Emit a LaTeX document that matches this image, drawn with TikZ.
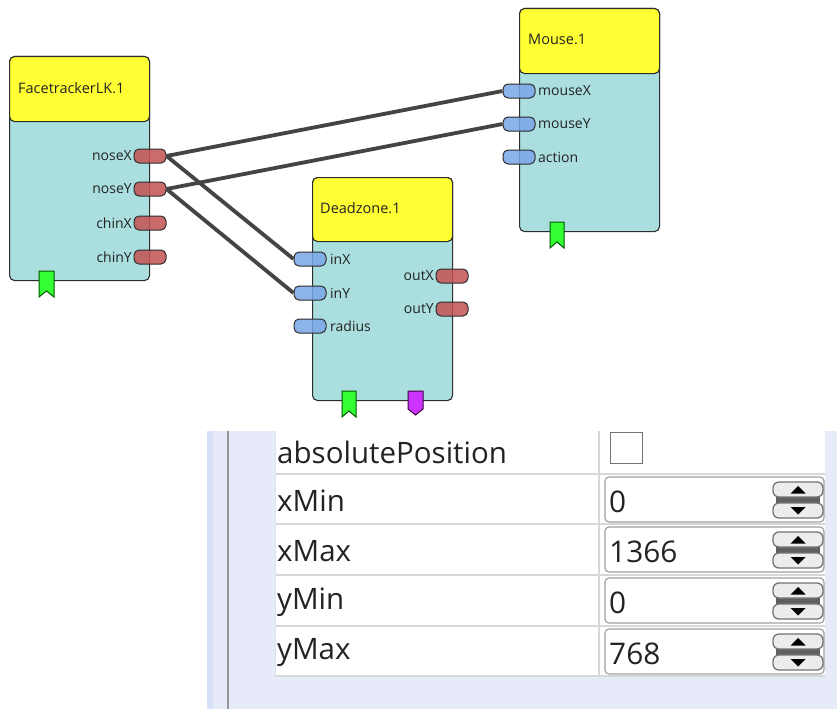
\documentclass[tikz,border=0pt]{standalone}
\usepackage{fontspec}
\setmainfont{Open Sans}
\definecolor{hdr}{RGB}{255,255,51}
\definecolor{bodyc}{RGB}{170,222,223}
\definecolor{outp}{RGB}{196,82,82}
\definecolor{inp}{RGB}{122,166,232}
\definecolor{flagGc}{RGB}{51,255,51}
\definecolor{flagMc}{RGB}{204,51,255}
\definecolor{wirec}{RGB}{68,68,68}
\definecolor{edgec}{RGB}{45,45,45}
\definecolor{lav}{RGB}{231,235,249}
\definecolor{lavedge}{RGB}{214,224,247}
\definecolor{txtc}{RGB}{35,35,35}
\definecolor{sepc}{RGB}{215,215,215}
\definecolor{btnc}{RGB}{236,236,236}
\definecolor{btnedge}{RGB}{115,115,115}
\definecolor{vline}{RGB}{150,150,155}
\definecolor{cellline}{RGB}{225,225,232}
\definecolor{chkc}{RGB}{115,115,115}
\definecolor{spinedge}{RGB}{160,160,160}
\definecolor{barc}{RGB}{95,95,95}
\tikzset{
  boxline/.style={draw=edgec, line width=1.1pt},
  modbody/.style={boxline, fill=bodyc, rounded corners=5pt, anchor=north west, inner sep=0pt},
  modhead/.style={boxline, fill=hdr, rounded corners=5pt, anchor=north west, inner sep=0pt},
  modtitle/.style={anchor=west, inner sep=0pt, text=txtc, font=\fontsize{14.5}{16}\selectfont},
  portbase/.style={draw=edgec, line width=1pt, fill opacity=0.85, rounded corners=5pt, minimum width=32pt, minimum height=14pt, inner sep=0pt},
  inport/.style={portbase, fill=inp},
  outport/.style={portbase, fill=outp},
  plabL/.style={anchor=west, inner sep=0pt, text=txtc, font=\fontsize{14}{16}\selectfont},
  plabR/.style={anchor=east, inner sep=0pt, text=txtc, font=\fontsize{14}{16}\selectfont},
  wire/.style={draw=wirec, line width=3.8pt},
  gflag/.style={draw=green!35!black, fill=flagGc, line width=1pt},
  mflag/.style={draw=violet!50!black, fill=flagMc, line width=1pt},
  proplab/.style={anchor=west, inner sep=0pt, text=txtc, font=\fontsize{29.5}{33}\selectfont},
  propval/.style={anchor=west, inner sep=0pt, text=txtc, font=\fontsize{29.8}{33}\selectfont},
}
\begin{document}
\begin{tikzpicture}[x=1pt,y=-1pt]
\useasboundingbox[fill=white] (0,0) rectangle (837,709);

% ---------- FacetrackerLK.1 ----------
\node[modbody, minimum width=140pt, minimum height=224pt] (ftb) at (9,56) {};
\node[modhead, minimum width=140pt, minimum height=65pt] (fth) at (9,56) {};
\node[modtitle] (ftt) at (18,88) {FacetrackerLK.1};
\draw[gflag] (39,271) -- (54,271) -- (54,297) -- (46.5,291) -- (39,297) -- cycle;
\node[outport] (noseX) at (150,156) {};
\node[outport] (noseY) at (150,189) {};
\node[outport] (chinX) at (150,223) {};
\node[outport] (chinY) at (150,257) {};
\node[plabR] (lnoseX) at (132,156) {noseX};
\node[plabR] (lnoseY) at (132,189) {noseY};
\node[plabR] (lchinX) at (132,223) {chinX};
\node[plabR] (lchinY) at (132,257) {chinY};

% ---------- Deadzone.1 ----------
\node[modbody, minimum width=140pt, minimum height=223pt] (dzb) at (312,177) {};
\node[modhead, minimum width=140pt, minimum height=64pt] (dzh) at (312,177) {};
\node[modtitle] (dzt) at (320,208) {Deadzone.1};
\draw[gflag] (342,391) -- (356,391) -- (356,417) -- (349,411) -- (342,417) -- cycle;
\draw[mflag] (408,391) -- (423,391) -- (423,409) -- (415.5,415) -- (408,409) -- cycle;
\node[inport] (inX) at (310,259) {};
\node[inport] (inY) at (310,293) {};
\node[inport] (radius) at (310,326) {};
\node[outport] (outX) at (452,276) {};
\node[outport] (outY) at (452,309) {};
\node[plabL] (linX) at (330,259) {inX};
\node[plabL] (linY) at (330,293) {inY};
\node[plabL] (lradius) at (330,326) {radius};
\node[plabR] (loutX) at (434,276) {outX};
\node[plabR] (loutY) at (434,309) {outY};

% ---------- Mouse.1 ----------
\node[modbody, minimum width=140pt, minimum height=223pt] (msb) at (519,8) {};
\node[modhead, minimum width=140pt, minimum height=65pt] (msh) at (519,8) {};
\node[modtitle] (mst) at (528,39) {Mouse.1};
\draw[gflag] (550,222) -- (564,222) -- (564,248) -- (557,242) -- (550,248) -- cycle;
\node[inport] (mouseX) at (519,91) {};
\node[inport] (mouseY) at (519,124) {};
\node[inport] (action) at (519,157) {};
\node[plabL] (lmouseX) at (538,91) {mouseX};
\node[plabL] (lmouseY) at (538,124) {mouseY};
\node[plabL] (laction) at (538,157) {action};

% ---------- wires ----------
\draw[wire] (noseX.east) -- (mouseX.west);
\draw[wire] (noseY.east) -- (mouseY.west);
\draw[wire] (noseX.east) -- (inX.west);
\draw[wire] (noseY.east) -- (inY.west);

% ---------- property panel ----------
\fill[lav] (207,431) rectangle (837,709);
\fill[lavedge] (207,431) rectangle (213,709);
\draw[vline, line width=2pt] (228,431) -- (228,709);
\fill[white] (275,431) rectangle (825,676);
\foreach \yy in {474,524,575,626,676} {
  \draw[sepc, line width=1.6pt] (275,\yy) -- (825,\yy);
}
\draw[sepc, line width=2pt] (599,431) -- (599,676);
\draw[cellline, line width=1pt] (275.5,431) -- (275.5,676);

\node[proplab] (pabs) at (277,452) {absolutePosition};
\node[draw=chkc, fill=white, line width=1.5pt, minimum width=32pt, minimum height=31pt, inner sep=0pt] (chk) at (626.5,448) {};

\foreach \t/\lab/\val/\nm in {474/xMin/0/a, 524/xMax/1366/b, 575/yMin/0/c, 626/yMax/768/d} {
  \node[proplab] (lab\nm) at (277,\t+27) {\lab};
  \draw[draw=spinedge, fill=white, line width=1.2pt, rounded corners=4pt] (605,\t+3) rectangle (824,\t+48);
  \node[propval] (val\nm) at (609,\t+28) {\val};
  \fill[barc] (776,\t+21) rectangle (820,\t+31);
  \draw[draw=btnedge, fill=btnc, line width=1.3pt, rounded corners=6pt] (773,\t+8) rectangle (823,\t+23);
  \draw[draw=btnedge, fill=btnc, line width=1.3pt, rounded corners=6pt] (773,\t+29) rectangle (823,\t+44);
  \fill[black] (790.5,\t+19.5) -- (805.5,\t+19.5) -- (798,\t+12) -- cycle;
  \fill[black] (790.5,\t+33) -- (805.5,\t+33) -- (798,\t+40.5) -- cycle;
}
\end{tikzpicture}
\end{document}
